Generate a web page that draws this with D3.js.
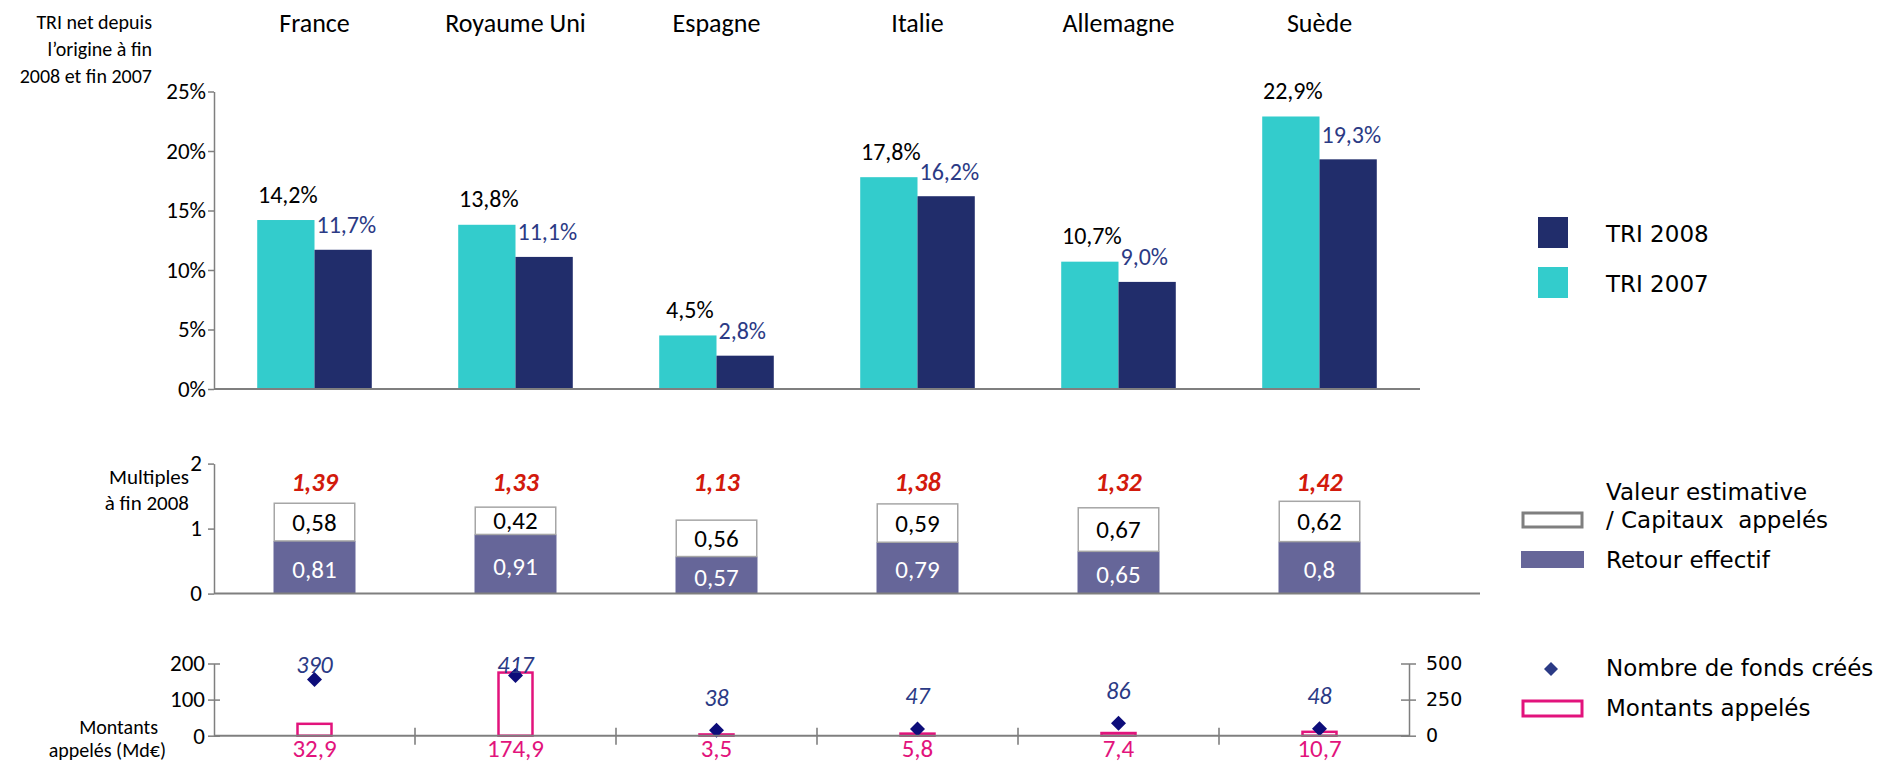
<!DOCTYPE html>
<html lang="fr">
<head>
<meta charset="UTF-8">
<title>TRI, multiples et montants appelés</title>
<style>
  body { margin: 0; background: #fff; }
  .calib { font-family: Carlito, Lato, sans-serif; }
  .verd { font-family: "DejaVu Sans", Verdana, sans-serif; }
  .axis path, .axis line { stroke: #7f7f7f; stroke-width: 1.5; }
  .axis text { font-family: Carlito, Lato, sans-serif; fill: #000; }
</style>
</head>
<body>
<div id="chart"></div>
<script src="https://cdn.jsdelivr.net/npm/d3@7"></script>
<script>
// données
var countries = ['France', 'Royaume Uni', 'Espagne', 'Italie', 'Allemagne', 'Suède'];
var tri2007 = [14.2, 13.8, 4.5, 17.8, 10.7, 22.9];
var tri2008 = [11.7, 11.1, 2.8, 16.2, 9.0, 19.3];
var retourEffectif = [0.81, 0.91, 0.57, 0.79, 0.65, 0.8];
var valeurEstimative = [0.58, 0.42, 0.56, 0.59, 0.67, 0.62];
var multiples = [1.39, 1.33, 1.13, 1.38, 1.32, 1.42];
var montants = [32.9, 174.9, 3.5, 5.8, 7.4, 10.7];
var nbFonds = [390, 417, 38, 47, 86, 48];
var triTicks = [0, 5, 10, 15, 20, 25];
var multTicks = [0, 1, 2];
var montTicks = [0, 100, 200];
var fondsTicks = [0, 250, 500];

var W = 1888, H = 764;
var cyan = '#33cccc', navy = '#212d6b', purple = '#666699', pink = '#e2137c',
    red = '#d21a0c', labelBlue = '#2b3a85', diamondCol = '#0d0d7a';

var comma = function (v, d) { return (d == null ? String(v) : v.toFixed(d)).replace('.', ','); };

var svg = d3.select('#chart').append('svg')
  .attr('width', W).attr('height', H);

var x0 = d3.scaleBand().domain(countries).range([214, 1420])
  .paddingInner(0.43).paddingOuter(0.215);
var x1 = d3.scaleBand().domain(['2007', '2008']).range([0, x0.bandwidth()]);
var cx = function (c) { return x0(c) + x0.bandwidth() / 2; };

// ---------- titres des pays ----------
svg.append('g').selectAll('text').data(countries).enter().append('text')
  .attr('class', 'calib')
  .attr('x', cx).attr('y', 23)
  .attr('text-anchor', 'middle').attr('dominant-baseline', 'central')
  .style('font-size', '26px')
  .text(function (d) { return d; });

// ---------- graphique 1 : TRI ----------
var yTop = d3.scaleLinear().domain([0, 25]).range([389, 91.5]);

var topTitle = ['TRI net depuis', 'l\u2019origine à fin', '2008 et fin 2007'];
svg.append('g').selectAll('text').data(topTitle).enter().append('text')
  .attr('class', 'calib')
  .attr('x', 152).attr('y', function (d, i) { return 22 + i * 27; })
  .attr('text-anchor', 'end').attr('dominant-baseline', 'central')
  .style('font-size', '20px')
  .text(function (d) { return d; });

var axTop = svg.append('g').attr('class', 'axis')
  .attr('transform', 'translate(214,0)')
  .call(d3.axisLeft(yTop).tickValues(triTicks).tickSize(6).tickSizeOuter(0)
    .tickFormat(function (d) { return d + '%'; }));
axTop.selectAll('text').style('font-size', '23px').attr('x', -8);

var grp = svg.append('g').selectAll('g').data(countries).enter().append('g')
  .attr('transform', function (d) { return 'translate(' + x0(d) + ',0)'; });

grp.append('rect')
  .attr('x', x1('2007')).attr('width', x1.bandwidth())
  .attr('y', function (d, i) { return yTop(tri2007[i]); })
  .attr('height', function (d, i) { return yTop(0) - yTop(tri2007[i]); })
  .attr('fill', cyan);
grp.append('rect')
  .attr('x', x1('2008')).attr('width', x1.bandwidth())
  .attr('y', function (d, i) { return yTop(tri2008[i]); })
  .attr('height', function (d, i) { return yTop(0) - yTop(tri2008[i]); })
  .attr('fill', navy);

grp.append('text').attr('class', 'calib')
  .attr('x', x1('2007') + x1.bandwidth() / 2 + 2)
  .attr('y', function (d, i) { return yTop(tri2007[i]) - 26; })
  .attr('text-anchor', 'middle').attr('dominant-baseline', 'central')
  .style('font-size', '24px')
  .text(function (d, i) { return comma(tri2007[i], 1) + '%'; });
grp.append('text').attr('class', 'calib')
  .attr('x', x1('2008') + 2)
  .attr('y', function (d, i) { return yTop(tri2008[i]) - 25; })
  .attr('dominant-baseline', 'central')
  .attr('fill', labelBlue)
  .style('font-size', '24px')
  .text(function (d, i) { return comma(tri2008[i], 1) + '%'; });

svg.append('line')
  .attr('x1', 214).attr('x2', 1420).attr('y1', yTop(0)).attr('y2', yTop(0))
  .attr('stroke', '#7f7f7f').attr('stroke-width', 2);

// légende 1
var leg1 = [{ t: 'TRI 2008', c: navy }, { t: 'TRI 2007', c: cyan }];
var l1 = svg.append('g').selectAll('g').data(leg1).enter().append('g')
  .attr('transform', function (d, i) { return 'translate(0,' + (i * 50) + ')'; });
l1.append('rect').attr('x', 1538).attr('y', 217).attr('width', 30).attr('height', 31)
  .attr('fill', function (d) { return d.c; });
l1.append('text').attr('class', 'verd')
  .attr('x', 1606).attr('y', 234).attr('dominant-baseline', 'central')
  .style('font-size', '23px')
  .text(function (d) { return d.t; });

// ---------- graphique 2 : multiples ----------
var yMid = d3.scaleLinear().domain([0, 2]).range([593.6, 463.6]);

svg.append('g').selectAll('text').data(['Multiples', 'à fin 2008']).enter().append('text')
  .attr('class', 'calib')
  .attr('x', 189).attr('y', function (d, i) { return 477 + i * 26; })
  .attr('text-anchor', 'end').attr('dominant-baseline', 'central')
  .style('font-size', '21px')
  .text(function (d) { return d; });

var axMid = svg.append('g').attr('class', 'axis')
  .attr('transform', 'translate(214,0)')
  .call(d3.axisLeft(yMid).tickValues(multTicks).tickSize(6).tickSizeOuter(0)
    .tickFormat(d3.format('d')));
axMid.selectAll('text').style('font-size', '23px').attr('x', -12);

var bwMid = 82;
var gm = svg.append('g').selectAll('g').data(countries).enter().append('g')
  .attr('transform', function (d) { return 'translate(' + (cx(d) - bwMid / 2) + ',0)'; });

gm.append('rect')
  .attr('x', 0).attr('width', bwMid)
  .attr('y', function (d, i) { return yMid(retourEffectif[i]); })
  .attr('height', function (d, i) { return yMid(0) - yMid(retourEffectif[i]); })
  .attr('fill', purple);
gm.append('rect')
  .attr('x', 0.75).attr('width', bwMid - 1.5)
  .attr('y', function (d, i) { return yMid(retourEffectif[i] + valeurEstimative[i]); })
  .attr('height', function (d, i) { return yMid(retourEffectif[i]) - yMid(retourEffectif[i] + valeurEstimative[i]); })
  .attr('fill', '#fff').attr('stroke', '#a6a6a6').attr('stroke-width', 1.5);

gm.append('text').attr('class', 'calib')
  .attr('x', bwMid / 2)
  .attr('y', function (d, i) { return (yMid(0) + yMid(retourEffectif[i])) / 2 + 2; })
  .attr('text-anchor', 'middle').attr('dominant-baseline', 'central')
  .attr('fill', '#fff').style('font-size', '25px')
  .text(function (d, i) { return comma(retourEffectif[i]); });
gm.append('text').attr('class', 'calib')
  .attr('x', bwMid / 2)
  .attr('y', function (d, i) { return (yMid(retourEffectif[i]) + yMid(retourEffectif[i] + valeurEstimative[i])) / 2; })
  .attr('text-anchor', 'middle').attr('dominant-baseline', 'central')
  .style('font-size', '25px')
  .text(function (d, i) { return comma(valeurEstimative[i]); });
gm.append('text').attr('class', 'calib')
  .attr('x', bwMid / 2).attr('y', yMid(1.72))
  .attr('text-anchor', 'middle').attr('dominant-baseline', 'central')
  .attr('fill', red).style('font-size', '26px')
  .style('font-weight', 'bold').style('font-style', 'italic')
  .text(function (d, i) { return comma(multiples[i], 2); });

svg.append('line')
  .attr('x1', 214).attr('x2', 1480).attr('y1', yMid(0)).attr('y2', yMid(0))
  .attr('stroke', '#7f7f7f').attr('stroke-width', 2);

// légende 2
svg.append('rect').attr('x', 1523).attr('y', 513).attr('width', 59).attr('height', 14)
  .attr('fill', '#fff').attr('stroke', '#7f7f7f').attr('stroke-width', 3);
svg.append('rect').attr('x', 1521).attr('y', 551).attr('width', 63).attr('height', 17)
  .attr('fill', purple);
svg.append('g').selectAll('text')
  .data([['Valeur estimative', 492], ['/ Capitaux  appelés', 520], ['Retour effectif', 560]])
  .enter().append('text').attr('class', 'verd')
  .attr('x', 1606).attr('y', function (d) { return d[1]; })
  .attr('dominant-baseline', 'central')
  .style('font-size', '23px').style('white-space', 'pre')
  .text(function (d) { return d[0]; });

// ---------- graphique 3 : montants appelés / nombre de fonds ----------
var yBot = d3.scaleLinear().domain([0, 200]).range([735.7, 663.5]);
var yBotR = d3.scaleLinear().domain([0, 500]).range([735.7, 663.5]);

svg.append('text').attr('class', 'calib')
  .attr('x', 158).attr('y', 727).attr('text-anchor', 'end').attr('dominant-baseline', 'central')
  .style('font-size', '20px').text('Montants');
svg.append('text').attr('class', 'calib')
  .attr('x', 166).attr('y', 750).attr('text-anchor', 'end').attr('dominant-baseline', 'central')
  .style('font-size', '20px').text('appelés (Md€)');

var axBot = svg.append('g').attr('class', 'axis')
  .attr('transform', 'translate(214,0)')
  .call(d3.axisLeft(yBot).tickValues(montTicks).tickSize(6).tickSizeOuter(0));
axBot.selectAll('.tick line').attr('x1', 6);
axBot.selectAll('text').style('font-size', '23px').attr('x', -9);

var axR = svg.append('g').attr('class', 'axis')
  .attr('transform', 'translate(1409,0)')
  .call(d3.axisRight(yBotR).tickValues(fondsTicks).tickSize(7).tickSizeOuter(0));
axR.selectAll('.tick line').attr('x1', -8);
axR.selectAll('text').attr('class', 'verd').style('font-family', '"DejaVu Sans", Verdana, sans-serif')
  .style('font-size', '19px').attr('x', 17);

// séparateurs de catégories sur l'axe
svg.append('g').selectAll('line').data(countries.slice(1)).enter().append('line')
  .attr('x1', function (d) { return x0(d) - x0.step() * x0.paddingInner() / 2; })
  .attr('x2', function (d) { return x0(d) - x0.step() * x0.paddingInner() / 2; })
  .attr('y1', yBot(0) - 8).attr('y2', yBot(0) + 9)
  .attr('stroke', '#555').attr('stroke-width', 1.2);

var bwBot = 34;
var gb = svg.append('g').selectAll('g').data(countries).enter().append('g')
  .attr('transform', function (d) { return 'translate(' + cx(d) + ',0)'; });

gb.append('rect')
  .attr('x', -bwBot / 2).attr('width', bwBot)
  .attr('y', function (d, i) { return yBot(montants[i]); })
  .attr('height', function (d, i) { return yBot(0) - yBot(montants[i]); })
  .attr('fill', '#fff').attr('stroke', pink).attr('stroke-width', 2.5);

svg.append('line')
  .attr('x1', 214).attr('x2', 1409).attr('y1', yBot(0)).attr('y2', yBot(0))
  .attr('stroke', '#7f7f7f').attr('stroke-width', 2);

gb.append('text').attr('class', 'calib')
  .attr('x', 0).attr('y', 748)
  .attr('text-anchor', 'middle').attr('dominant-baseline', 'central')
  .attr('fill', pink).style('font-size', '25px')
  .text(function (d, i) { return comma(montants[i], 1); });

var diamond = 'M0,-7.5L7.5,0L0,7.5L-7.5,0Z';
gb.append('path')
  .attr('d', diamond)
  .attr('transform', function (d, i) { return 'translate(0,' + yBotR(nbFonds[i]) + ')'; })
  .attr('fill', diamondCol);

gb.append('text').attr('class', 'calib')
  .attr('x', 0)
  .attr('y', function (d, i) { return Math.max(yBotR(nbFonds[i]) - 33, 664); })
  .attr('text-anchor', 'middle').attr('dominant-baseline', 'central')
  .attr('fill', labelBlue).style('font-size', '24px').style('font-style', 'italic')
  .text(function (d, i) { return nbFonds[i]; });

// légende 3
svg.append('path').attr('d', 'M0,-7L7,0L0,7L-7,0Z')
  .attr('transform', 'translate(1551,669)').attr('fill', labelBlue);
svg.append('rect').attr('x', 1523).attr('y', 701).attr('width', 59).attr('height', 15)
  .attr('fill', '#fff').attr('stroke', pink).attr('stroke-width', 3);
svg.append('g').selectAll('text')
  .data([['Nombre de fonds créés', 668], ['Montants appelés', 708]])
  .enter().append('text').attr('class', 'verd')
  .attr('x', 1606).attr('y', function (d) { return d[1]; })
  .attr('dominant-baseline', 'central')
  .style('font-size', '23px')
  .text(function (d) { return d[0]; });
</script>
</body>
</html>
